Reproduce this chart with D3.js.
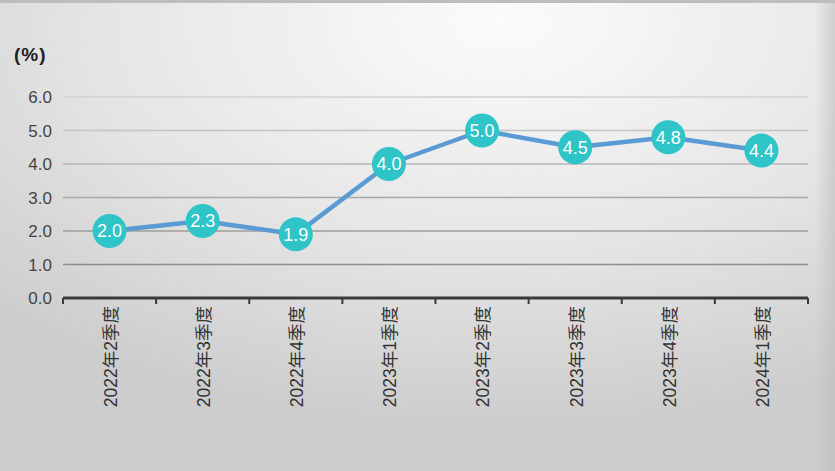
<!DOCTYPE html>
<html>
<head>
<meta charset="utf-8">
<script src="https://cdn.jsdelivr.net/npm/d3@7"></script>
<style>
  html, body { margin: 0; padding: 0; }
  body { width: 835px; height: 471px; overflow: hidden; }
  text { font-family: "Liberation Sans", "Noto Sans CJK SC", sans-serif; }
</style>
</head>
<body>
<div id="chart"></div>
<script>
const categories = ['2022年2季度', '2022年3季度', '2022年4季度', '2023年1季度',
                    '2023年2季度', '2023年3季度', '2023年4季度', '2024年1季度'];
const values = [2.0, 2.3, 1.9, 4.0, 5.0, 4.5, 4.8, 4.4];
const yTicks = [0, 1, 2, 3, 4, 5, 6];

const W = 835, H = 471;
const M = { left: 63, right: 27, top: 97, bottom: 173 };

const svg = d3.select('#chart').append('svg')
    .attr('width', W)
    .attr('height', H);

// background: soft radial gradient, light in upper middle, grey at edges
const defs = svg.append('defs');
const bg = defs.append('radialGradient')
    .attr('id', 'bg')
    .attr('cx', '0.6').attr('cy', '0.05').attr('r', '0.85')
    .attr('gradientUnits', 'objectBoundingBox');
bg.append('stop').attr('offset', '0%').attr('stop-color', '#fbfbfb');
bg.append('stop').attr('offset', '55%').attr('stop-color', '#e6e6e6');
bg.append('stop').attr('offset', '100%').attr('stop-color', '#cdcdcd');

// darker strip along the right edge
const edge = defs.append('linearGradient')
    .attr('id', 'edge')
    .attr('x1', '0').attr('x2', '1').attr('y1', '0').attr('y2', '0');
edge.append('stop').attr('offset', '0%').attr('stop-color', '#bdbdbd').attr('stop-opacity', 0);
edge.append('stop').attr('offset', '100%').attr('stop-color', '#bdbdbd').attr('stop-opacity', 0.6);

svg.append('rect').attr('width', W).attr('height', H).attr('fill', 'url(#bg)');
svg.append('rect').attr('x', W - 20).attr('width', 20).attr('height', H).attr('fill', 'url(#edge)');
svg.append('rect').attr('x', 0).attr('y', 0).attr('width', W).attr('height', 3).attr('fill', '#bdbdbd');

const x = d3.scaleBand()
    .domain(categories)
    .range([M.left, W - M.right]);

const y = d3.scaleLinear()
    .domain([0, 6])
    .range([H - M.bottom, M.top]);

// grid lines
svg.append('g')
    .selectAll('line')
    .data(yTicks.filter(d => d > 0))
    .join('line')
    .attr('x1', M.left)
    .attr('x2', W - M.right)
    .attr('y1', d => y(d))
    .attr('y2', d => y(d))
    .attr('stroke', d => d3.interpolateRgb('#8e8e8e', '#d2d2d2')((d - 1) / 5))
    .attr('stroke-width', 1.5);

// y axis labels
svg.append('g')
    .selectAll('text')
    .data(yTicks)
    .join('text')
    .attr('x', 52)
    .attr('y', d => y(d))
    .attr('dy', '0.36em')
    .attr('text-anchor', 'end')
    .attr('fill', '#444')
    .style('font-size', '17px')
    .text(d => d.toFixed(1));

svg.append('text')
    .attr('x', 14)
    .attr('y', 61)
    .attr('fill', '#222')
    .style('font-size', '19px')
    .style('font-weight', 'bold')
    .style('letter-spacing', '1px')
    .text('(%)');

// x axis
const xAxis = svg.append('g')
    .attr('transform', `translate(0,${y(0)})`);
xAxis.append('line')
    .attr('x1', M.left).attr('x2', W - M.right)
    .attr('stroke', '#3a3a3a').attr('stroke-width', 3);
xAxis.selectAll('.tick')
    .data(d3.range(categories.length + 1))
    .join('line')
    .attr('class', 'tick')
    .attr('x1', i => M.left + i * x.step())
    .attr('x2', i => M.left + i * x.step())
    .attr('y1', 0).attr('y2', 6)
    .attr('stroke', '#3a3a3a').attr('stroke-width', 2);

xAxis.selectAll('.xlabel')
    .data(categories)
    .join('text')
    .attr('class', 'xlabel')
    .attr('transform', d => `translate(${x(d) + x.bandwidth() / 2 + 1},8) rotate(-90)`)
    .attr('dy', '0.36em')
    .attr('text-anchor', 'end')
    .attr('fill', '#333')
    .style('font-size', '17.5px')
    .text(d => d);

// line
const line = d3.line()
    .x((d, i) => x(categories[i]) + x.bandwidth() / 2)
    .y(d => y(d));

svg.append('path')
    .datum(values)
    .attr('d', line)
    .attr('fill', 'none')
    .attr('stroke', '#5b9bd5')
    .attr('stroke-width', 4.5)
    .attr('stroke-linejoin', 'round');

// markers
const pts = svg.append('g')
    .selectAll('g')
    .data(values)
    .join('g')
    .attr('transform', (d, i) => `translate(${x(categories[i]) + x.bandwidth() / 2},${y(d)})`);

pts.append('circle')
    .attr('r', 17)
    .attr('fill', '#2fc5c8');

pts.append('text')
    .attr('text-anchor', 'middle')
    .attr('dy', '0.36em')
    .attr('fill', '#fff')
    .style('font-size', '18px')
    .text(d => d.toFixed(1));
</script>
</body>
</html>
